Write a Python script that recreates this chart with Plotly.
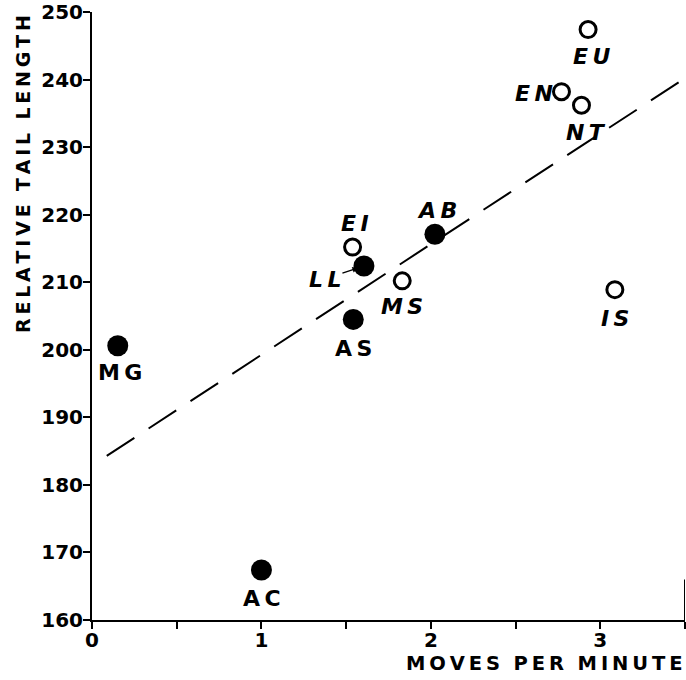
import plotly.graph_objects as go

# ---- data ----
names = ["MG", "AC", "AS", "EI", "LL", "MS", "AB", "EN", "NT", "EU", "IS"]
moves = [0.152, 1.00, 1.542, 1.538, 1.605, 1.831, 2.024, 2.771, 2.889, 2.928, 3.086]
tail = [200.6, 167.4, 204.5, 215.2, 212.4, 210.2, 217.1, 238.2, 236.2, 247.4, 208.9]
filled = [True, True, True, False, True, False, True, False, False, False, False]

fit_x = [0.087, 3.5]
fit_y = [184.3, 240.2]

x_tickvals = [0, 0.5, 1, 1.5, 2, 2.5, 3, 3.5]
x_ticktext = ["0", "", "1", "", "2", "", "3", ""]
y_tickvals = [160, 170, 180, 190, 200, 210, 220, 230, 240, 250]

# ---- label styling (pixel offsets, screen coords: +dy = down) ----
label_style = {
    "MG": dict(dx=2, dy=27, italic=False, anchor="center"),
    "AC": dict(dx=1, dy=28, italic=False, anchor="center"),
    "AS": dict(dx=0, dy=29, italic=False, anchor="center"),
    "EI": dict(dx=2, dy=-24, italic=True, anchor="center"),
    "MS": dict(dx=0, dy=26, italic=True, anchor="center"),
    "AB": dict(dx=2, dy=-24, italic=True, anchor="center"),
    "EN": dict(dx=-6, dy=2, italic=True, anchor="right"),
    "NT": dict(dx=5, dy=27, italic=True, anchor="center"),
    "EU": dict(dx=3, dy=27, italic=True, anchor="center"),
    "IS": dict(dx=0, dy=29, italic=True, anchor="center"),
}

FONT = "DejaVu Sans"
TS = "\u2009"   # thin space
NB = "\u00a0"


def spaced(s, gap=TS, word=NB + NB):
    words = s.split(" ")
    return word.join(gap.join(list(w)) for w in words)


fig = go.Figure()

# regression line
fig.add_trace(go.Scatter(
    x=fit_x, y=fit_y, mode="lines",
    line=dict(color="black", width=2, dash="33px,17px"),
    hoverinfo="skip", showlegend=False,
))

fx = [x for x, f in zip(moves, filled) if f]
fy = [y for y, f in zip(tail, filled) if f]
ox = [x for x, f in zip(moves, filled) if not f]
oy = [y for y, f in zip(tail, filled) if not f]

fig.add_trace(go.Scatter(
    x=fx, y=fy, mode="markers",
    marker=dict(symbol="circle", size=21, color="black", line=dict(width=0)),
    showlegend=False,
))
fig.add_trace(go.Scatter(
    x=ox, y=oy, mode="markers",
    marker=dict(symbol="circle-open", size=16, color="black", line=dict(width=3, color="black")),
    showlegend=False,
))

LABEL_SIZE = 22
annotations = []
for n, x, y in zip(names, moves, tail):
    if n == "LL":
        annotations.append(dict(
            x=x, y=y, xref="x", yref="y",
            text="<i>L" + TS + "L</i>",
            showarrow=True, ax=-39, ay=13, standoff=6,
            arrowhead=2, arrowsize=0.9, arrowwidth=1.3, arrowcolor="black",
            font=dict(family=FONT, size=LABEL_SIZE, color="black", weight="bold"),
        ))
        continue
    st = label_style[n]
    txt = n[0] + TS + n[1]
    if st["italic"]:
        txt = "<i>" + txt + "</i>"
    annotations.append(dict(
        x=x, y=y, xref="x", yref="y", text=txt, showarrow=False,
        xanchor=st["anchor"], yanchor="middle",
        xshift=st["dx"], yshift=-st["dy"],
        font=dict(family=FONT, size=LABEL_SIZE, color="black", weight="bold"),
    ))

# axis titles
annotations.append(dict(
    x=1.0, y=0.0, xref="paper", yref="paper",
    text=spaced("MOVES PER MINUTE"), showarrow=False,
    xanchor="right", yanchor="middle", yshift=-43, xshift=0,
    font=dict(family=FONT, size=19.5, color="black", weight="bold"),
))
annotations.append(dict(
    x=0, y=1.0, xref="paper", yref="paper",
    text=spaced("RELATIVE TAIL LENGTH"), showarrow=False, textangle=-90,
    xanchor="center", yanchor="top", xshift=-69, yshift=-1,
    font=dict(family=FONT, size=19, color="black", weight="bold"),
))

fig.update_layout(
    width=686, height=680,
    margin=dict(l=92, r=1, t=12, b=60, autoexpand=False),
    paper_bgcolor="white", plot_bgcolor="white",
    showlegend=False,
    annotations=annotations,
    shapes=[dict(type="line", xref="x", yref="y", x0=3.5, x1=3.5, y0=160, y1=166,
                 line=dict(color="black", width=2))],
)
fig.update_xaxes(
    range=[0, 3.5], showgrid=False, zeroline=False, automargin=False,
    showline=True, linecolor="black", linewidth=2,
    ticks="outside", tickvals=x_tickvals, ticktext=x_ticktext,
    ticklen=7, tickwidth=2, tickcolor="black", ticklabelstandoff=-6,
    tickfont=dict(family=FONT, size=20, color="black", weight="bold"),
)
fig.update_yaxes(
    range=[160, 250], showgrid=False, zeroline=False, automargin=False,
    showline=True, linecolor="black", linewidth=2,
    ticks="outside", tickvals=y_tickvals,
    ticklen=7, tickwidth=2, tickcolor="black", ticklabelstandoff=-4,
    tickfont=dict(family=FONT, size=20, color="black", weight="bold"),
)

fig.write_html("out.html", config={"displayModeBar": False},
               post_script="document.body.style.margin='0';")
